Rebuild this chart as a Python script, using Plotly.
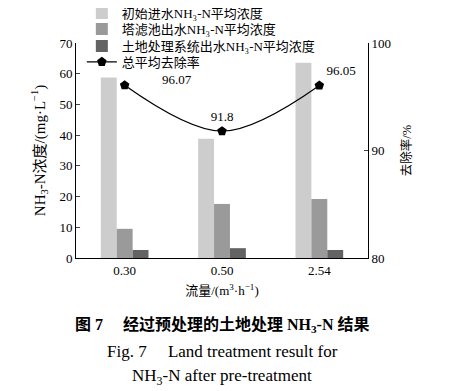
import plotly.graph_objects as go

categories = ["0.30", "0.50", "2.54"]
initial_nh3 = [58.8, 38.8, 63.6]
tower_nh3 = [9.5, 17.6, 19.2]
land_nh3 = [2.6, 3.2, 2.6]
removal = [96.07, 91.8, 96.05]
removal_labels = ["96.07", "91.8", "96.05"]

FONT = "Liberation Serif, DejaVu Serif, Noto Sans CJK SC"

# first label sits beside its marker (annotation), the others above it
top_labels = ["", removal_labels[1], removal_labels[2]]

fig = go.Figure()
fig.add_trace(go.Bar(x=categories, y=initial_nh3, name="初始进水NH₃-N平均浓度",
                     marker=dict(color="#cdcdcd", line=dict(width=0)), legend="legend"))
fig.add_trace(go.Bar(x=categories, y=tower_nh3, name="塔滤池出水NH₃-N平均浓度",
                     marker=dict(color="#9a9a9a", line=dict(width=0)), legend="legend2"))
fig.add_trace(go.Bar(x=categories, y=land_nh3, name="土地处理系统出水NH₃-N平均浓度",
                     marker=dict(color="#636363", line=dict(width=0)), legend="legend3"))
fig.add_trace(go.Scatter(x=categories, y=removal, name="总平均去除率", yaxis="y2",
                         mode="lines+markers+text", legend="legend4",
                         line=dict(color="black", width=1.2, shape="spline"),
                         marker=dict(symbol="pentagon", size=10, color="black"),
                         text=top_labels,
                         textposition=["top right", "top center", "top right"],
                         textfont=dict(family=FONT, size=13, color="black")))

fig.add_annotation(x=categories[0], y=removal[0], xref="x", yref="y2",
                   text=removal_labels[0], showarrow=False,
                   xanchor="left", yanchor="middle", xshift=6, yshift=6,
                   font=dict(family=FONT, size=13, color="black"))

leg = dict(x=0.02, xanchor="left", yanchor="middle", bgcolor="rgba(0,0,0,0)",
           font=dict(family=FONT, size=13), itemwidth=30, borderwidth=0)

fig.update_layout(
    width=444, height=383,
    margin=dict(l=68, r=84, t=35, b=133, autoexpand=False),
    paper_bgcolor="white", plot_bgcolor="white",
    font=dict(family=FONT, size=13, color="black"),
    barmode="group", bargap=0.51, bargroupgap=0,
    showlegend=True,
    legend=dict(leg, y=1.139),
    legend2=dict(leg, y=1.065),
    legend3=dict(leg, y=0.986),
    legend4=dict(leg, y=0.912),
    xaxis=dict(showline=True, linecolor="black", linewidth=1, ticks="",
               title=dict(text="流量/(m<sup>3</sup>·h<sup>−1</sup>)", standoff=9,
                          font=dict(size=13)),
               tickfont=dict(size=13)),
    yaxis=dict(range=[0, 70], dtick=10, showline=True, linecolor="black", linewidth=1,
               ticks="inside", ticklen=4, showgrid=False, zeroline=False,
               title=dict(text="NH<sub>3</sub>-N浓度/(mg·L<sup>−1</sup>)", standoff=10,
                          font=dict(size=15))),
    yaxis2=dict(range=[80, 100], dtick=10, overlaying="y", side="right",
                showline=True, linecolor="black", linewidth=1,
                ticks="inside", ticklen=4, showgrid=False, zeroline=False,
                title=dict(text="去除率/%", standoff=12, font=dict(size=12.5))),
)

fig.add_annotation(text="<b>图 7　 经过预处理的土地处理 NH<sub>3</sub>-N 结果</b>",
                   xref="paper", yref="paper", x=0.5, y=-0.312, showarrow=False,
                   xanchor="center", yanchor="middle", font=dict(size=16))
fig.add_annotation(text="Fig. 7　 Land treatment result for",
                   xref="paper", yref="paper", x=0.5, y=-0.437, showarrow=False,
                   xanchor="center", yanchor="middle", font=dict(size=17))
fig.add_annotation(text="NH<sub>3</sub>-N after pre-treatment",
                   xref="paper", yref="paper", x=0.5, y=-0.553, showarrow=False,
                   xanchor="center", yanchor="middle", font=dict(size=17))

fig.write_html("out.html")
